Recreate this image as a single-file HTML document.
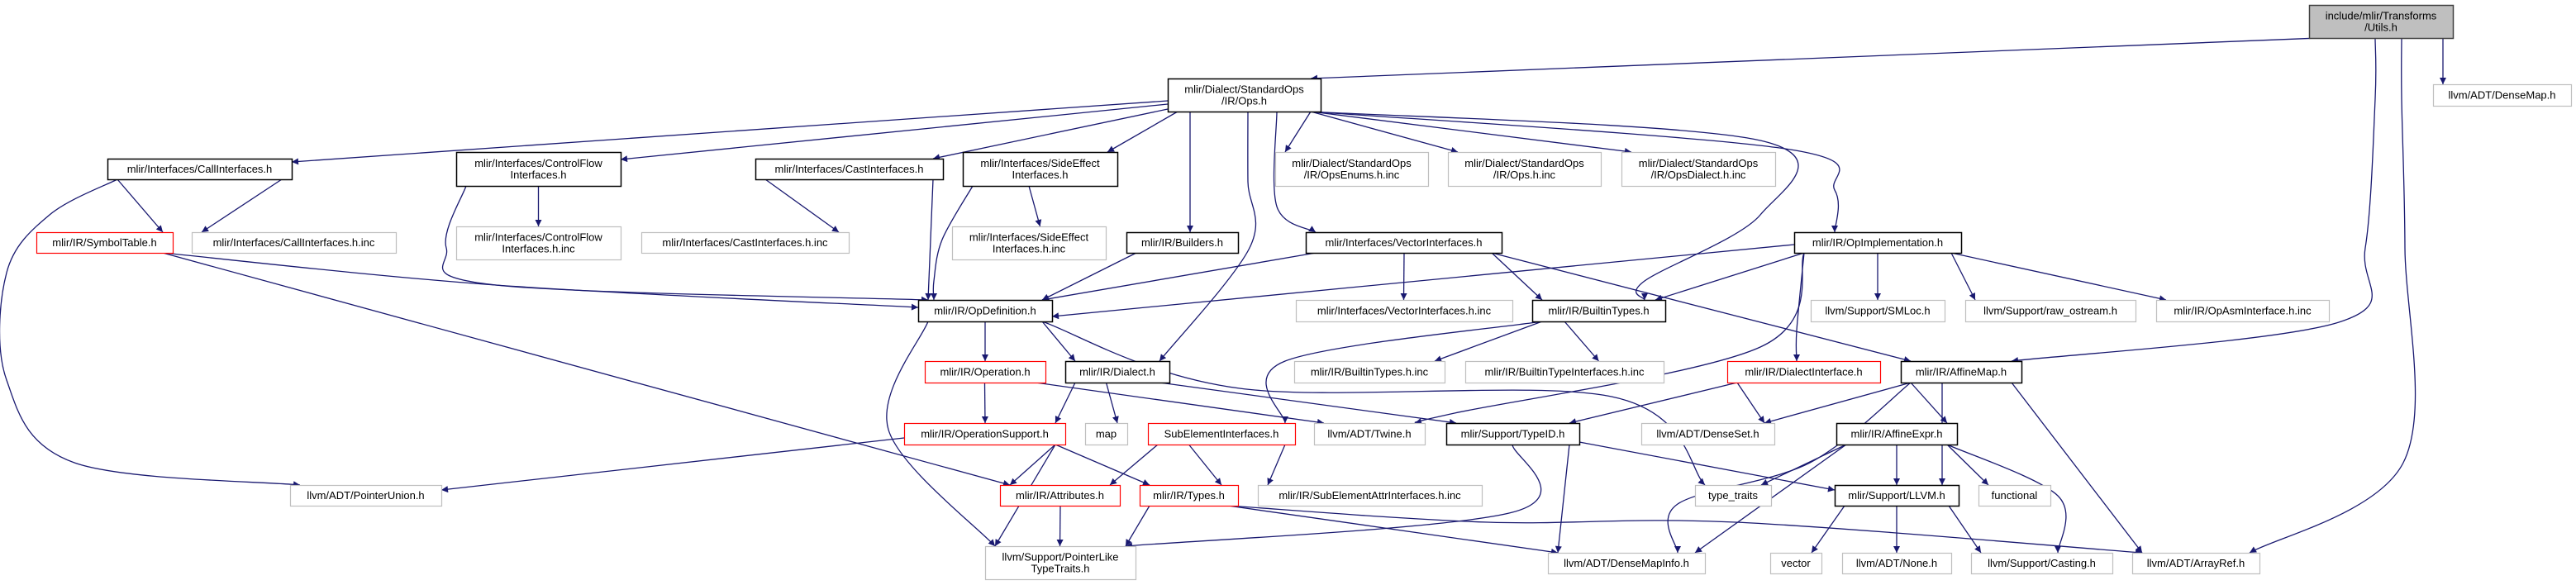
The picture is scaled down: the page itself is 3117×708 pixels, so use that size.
<!DOCTYPE html>
<html><head><meta charset="utf-8"><style>
html,body{margin:0;padding:0;background:#fff;}
svg{display:block;}
text{font-family:"Liberation Sans",sans-serif;font-size:13px;fill:#000;}
</style></head><body>
<svg id="g" width="3117" height="708" viewBox="0 0 3117 708" xmlns="http://www.w3.org/2000/svg">
<defs><marker id="ah" viewBox="0 0 10 10" refX="10" refY="5" markerWidth="11" markerHeight="8" markerUnits="userSpaceOnUse" orient="auto"><path d="M0,0 L10,5 L0,10 z" fill="#191970"/></marker></defs>
<g id="edges"></g><g id="nodes"></g>
</svg>
<script>
const nodeIds=["utils","ops","densemap","call","cflow","cast","side","opsenums","opsinc","opsdialect","symtab","callinc","cflowinc","castinc","sideinc","builders","vecif","opimpl","opdef","vecinc","builtin","smloc","rawos","opasm","operation","dialect","builtininc","builtinif","diaif","affmap","opsupport","map","subelem","twine","typeid","denseset","affexpr","attrs","types","subattr","typetraits","llvm","functional","ptrunion","ptrlike","densemapinfo","vector","none","casting","arrayref"];
const nodeLabels=[["include/mlir/Transforms","/Utils.h"],["mlir/Dialect/StandardOps","/IR/Ops.h"],["llvm/ADT/DenseMap.h"],["mlir/Interfaces/CallInterfaces.h"],["mlir/Interfaces/ControlFlow","Interfaces.h"],["mlir/Interfaces/CastInterfaces.h"],["mlir/Interfaces/SideEffect","Interfaces.h"],["mlir/Dialect/StandardOps","/IR/OpsEnums.h.inc"],["mlir/Dialect/StandardOps","/IR/Ops.h.inc"],["mlir/Dialect/StandardOps","/IR/OpsDialect.h.inc"],["mlir/IR/SymbolTable.h"],["mlir/Interfaces/CallInterfaces.h.inc"],["mlir/Interfaces/ControlFlow","Interfaces.h.inc"],["mlir/Interfaces/CastInterfaces.h.inc"],["mlir/Interfaces/SideEffect","Interfaces.h.inc"],["mlir/IR/Builders.h"],["mlir/Interfaces/VectorInterfaces.h"],["mlir/IR/OpImplementation.h"],["mlir/IR/OpDefinition.h"],["mlir/Interfaces/VectorInterfaces.h.inc"],["mlir/IR/BuiltinTypes.h"],["llvm/Support/SMLoc.h"],["llvm/Support/raw_ostream.h"],["mlir/IR/OpAsmInterface.h.inc"],["mlir/IR/Operation.h"],["mlir/IR/Dialect.h"],["mlir/IR/BuiltinTypes.h.inc"],["mlir/IR/BuiltinTypeInterfaces.h.inc"],["mlir/IR/DialectInterface.h"],["mlir/IR/AffineMap.h"],["mlir/IR/OperationSupport.h"],["map"],["SubElementInterfaces.h"],["llvm/ADT/Twine.h"],["mlir/Support/TypeID.h"],["llvm/ADT/DenseSet.h"],["mlir/IR/AffineExpr.h"],["mlir/IR/Attributes.h"],["mlir/IR/Types.h"],["mlir/IR/SubElementAttrInterfaces.h.inc"],["type_traits"],["mlir/Support/LLVM.h"],["functional"],["llvm/ADT/PointerUnion.h"],["llvm/Support/PointerLike","TypeTraits.h"],["llvm/ADT/DenseMapInfo.h"],["vector"],["llvm/ADT/None.h"],["llvm/Support/Casting.h"],["llvm/ADT/ArrayRef.h"]];
const nodeBoxes=[[2794,6,2968,46],[1413,95,1598,135],[2944,102,3111,128],[130,192,353,217],[552,184,751,225],[914,192,1141,217],[1165,184,1352,225],[1543,184,1728,225],[1752,184,1937,225],[1962,184,2148,225],[44,281,209,306],[232,281,479,306],[552,274,751,314],[776,281,1027,306],[1152,274,1338,314],[1363,281,1498,306],[1580,281,1817,306],[2171,281,2373,306],[1111,363,1273,389],[1568,363,1830,389],[1854,363,2015,389],[2191,363,2353,389],[2378,363,2584,389],[2609,363,2818,389],[1119,437,1265,463],[1289,437,1415,463],[1566,437,1748,463],[1773,437,2013,463],[2090,437,2275,463],[2300,437,2446,463],[1094,512,1289,538],[1313,512,1364,538],[1389,512,1567,538],[1590,512,1724,538],[1750,512,1911,538],[1986,512,2147,538],[2222,512,2368,538],[1210,587,1355,612],[1379,587,1498,612],[1522,587,1793,612],[2051,587,2143,612],[2220,587,2370,612],[2394,587,2481,612],[351,587,534,612],[1192,661,1374,701],[1873,669,2063,694],[2142,669,2204,694],[2229,669,2361,694],[2385,669,2556,694],[2580,669,2734,694]];
const nodeKinds=["r","d","x","d","d","d","d","x","x","x","i","x","x","x","x","d","d","d","d","x","d","x","x","x","i","d","x","x","i","d","i","x","i","x","d","x","d","i","i","x","x","d","x","x","x","x","x","x","x","x"];
const edgeFrom=["utils","utils","utils","utils","ops","ops","ops","ops","ops","ops","ops","ops","ops","ops","ops","ops","call","call","call","cflow","cflow","cast","cast","side","side","symtab","symtab","builders","vecif","vecif","vecif","vecif","opimpl","opimpl","opimpl","opimpl","opimpl","opimpl","opimpl","opdef","opdef","opdef","opdef","builtin","builtin","builtin","operation","operation","dialect","dialect","dialect","opsupport","opsupport","opsupport","opsupport","subelem","subelem","subelem","diaif","diaif","affmap","affmap","affmap","affmap","affmap","affexpr","affexpr","affexpr","affexpr","affexpr","typeid","typeid","typeid","llvm","llvm","llvm","attrs","types","types","types"];
const edgeTo=["ops","densemap","affmap","arrayref","call","cflow","cast","side","builders","vecif","opsenums","opsinc","opsdialect","builtin","opimpl","dialect","symtab","callinc","ptrunion","cflowinc","opdef","castinc","opdef","sideinc","opdef","opdef","attrs","opdef","opdef","vecinc","builtin","affmap","opdef","builtin","twine","diaif","smloc","rawos","opasm","operation","dialect","ptrlike","typetraits","subelem","builtininc","builtinif","opsupport","twine","opsupport","map","typeid","ptrunion","attrs","types","ptrlike","attrs","types","subattr","typeid","denseset","denseset","affexpr","llvm","arrayref","densemapinfo","typetraits","llvm","functional","casting","densemapinfo","ptrlike","densemapinfo","llvm","vector","none","casting","ptrlike","ptrlike","densemapinfo","arrayref"];
// routing (layout, not data)
const routeVia={
 "utils>affmap":[[2874,120],[2862,300],[2830,390]],
 "utils>arrayref":[[2906,120],[2910,300],[2908,560]],
 "call>ptrunion":[[60,260],[8,330],[8,460],[90,560]],
 "cflow>opdef":[[540,300],[600,345]],
 "side>opdef":[[1140,290],[1130,340]],
 "symtab>opdef":[[600,345]],
 "opdef>ptrlike":[[1075,520]],
 "opdef>typetraits":[[1500,470],[1950,480]],
 "typeid>ptrlike":[[1830,620]],
 "ops>opimpl":[[2160,180],[2220,230]],
 "ops>builtin":[[2130,170],[2130,260],[1990,340]],
 "opimpl>twine":[[2130,420],[1760,500]],
 "opimpl>diaif":[[2174,400]],
 "affmap>densemapinfo":[[2190,560],[2030,610]],
 "affexpr>casting":[[2490,600]],
 "types>arrayref":[[1800,632],[2100,632]],
 "builtin>subelem":[[1555,437]],
 "ops>dialect":[[1510,220],[1512,300]],
 "ops>builders":[[1440,200]],
 "ops>vecif":[[1545,250]],
 "affmap>llvm":[[2350,530]]
};
const routeStart={"ops>call":[1413,122],"ops>cflow":[1413,126],"ops>cast":[1413,132],"opimpl>opdef":[2171,296],"opsupport>ptrunion":[1094,530],"typeid>llvm":[1911,535]};
const routeEnd={"ops>call":[353,196],"ops>cflow":[751,193],"opimpl>opdef":[1273,383],"opsupport>ptrunion":[534,593],"typeid>llvm":[2220,593],"symtab>opdef":[1111,372]};
const NS="http://www.w3.org/2000/svg";
const gN=document.getElementById('nodes'), gE=document.getElementById('edges');
const idx={}; nodeIds.forEach((id,i)=>idx[id]=i);
function clamp(v,a,b){return Math.max(a,Math.min(b,v));}
nodeIds.forEach((id,i)=>{
  const [x1,y1,x2,y2]=nodeBoxes[i], k=nodeKinds[i];
  const g=document.createElementNS(NS,'g');
  
  
  const r=document.createElementNS(NS,'rect');
  r.setAttribute('x',x1+0.5);r.setAttribute('y',y1+0.5);r.setAttribute('width',x2-x1);r.setAttribute('height',y2-y1);
  r.setAttribute('fill',k==='r'?'#bfbfbf':'#fff');
  r.setAttribute('stroke',k==='x'?'#bfbfbf':k==='i'?'#ff0000':k==='r'?'#404040':'#000');
  r.setAttribute('stroke-width',k==='x'||k==='i'?1.2:1.5);
  g.appendChild(r);
  const lines=nodeLabels[i], cx=(x1+x2)/2, cy=(y1+y2)/2;
  lines.forEach((t,j)=>{
    const tx=document.createElementNS(NS,'text');
    tx.setAttribute('x',cx);tx.setAttribute('y',cy+4.5+(j-(lines.length-1)/2)*14);
    tx.setAttribute('text-anchor','middle');tx.textContent=t;
    g.appendChild(tx);
  });
  gN.appendChild(g);
});
function attach(b,p){
  const cx=(b[0]+b[2])/2;
  if(p[1]<b[1]) return [clamp(p[0],b[0]+12,b[2]-12),b[1]];
  if(p[1]>b[3]) return [clamp(p[0],b[0]+12,b[2]-12),b[3]];
  return [p[0]<cx?b[0]:b[2], clamp(p[1],b[1]+5,b[3]-5)];
}
function center(b){return [(b[0]+b[2])/2,(b[1]+b[3])/2];}
edgeFrom.forEach((f,e)=>{
  const t=edgeTo[e], key=f+'>'+t;
  const a=nodeBoxes[idx[f]], b=nodeBoxes[idx[t]];
  const via=routeVia[key]||[];
  const s=routeStart[key]||attach(a, via.length?via[0]:center(b));
  const en=routeEnd[key]||attach(b, via.length?via[via.length-1]:center(a));
  const pts=[s,...via,en];
  let d=`M${pts[0][0]},${pts[0][1]}`;
  if(pts.length===2){d+=` L${en[0]},${en[1]}`;}
  else{
    for(let i=0;i<pts.length-1;i++){
      const p0=pts[Math.max(0,i-1)],p1=pts[i],p2=pts[i+1],p3=pts[Math.min(pts.length-1,i+2)];
      const c1=[p1[0]+(p2[0]-p0[0])/6,p1[1]+(p2[1]-p0[1])/6];
      const c2=[p2[0]-(p3[0]-p1[0])/6,p2[1]-(p3[1]-p1[1])/6];
      d+=` C${c1[0]},${c1[1]} ${c2[0]},${c2[1]} ${p2[0]},${p2[1]}`;
    }
  }
  const p=document.createElementNS(NS,'path');
  
  
  p.setAttribute('d',d);p.setAttribute('fill','none');p.setAttribute('stroke','#191970');p.setAttribute('stroke-width','1.3');
  p.setAttribute('marker-end','url(#ah)');
  gE.appendChild(p);
});
</script>
</body></html>
